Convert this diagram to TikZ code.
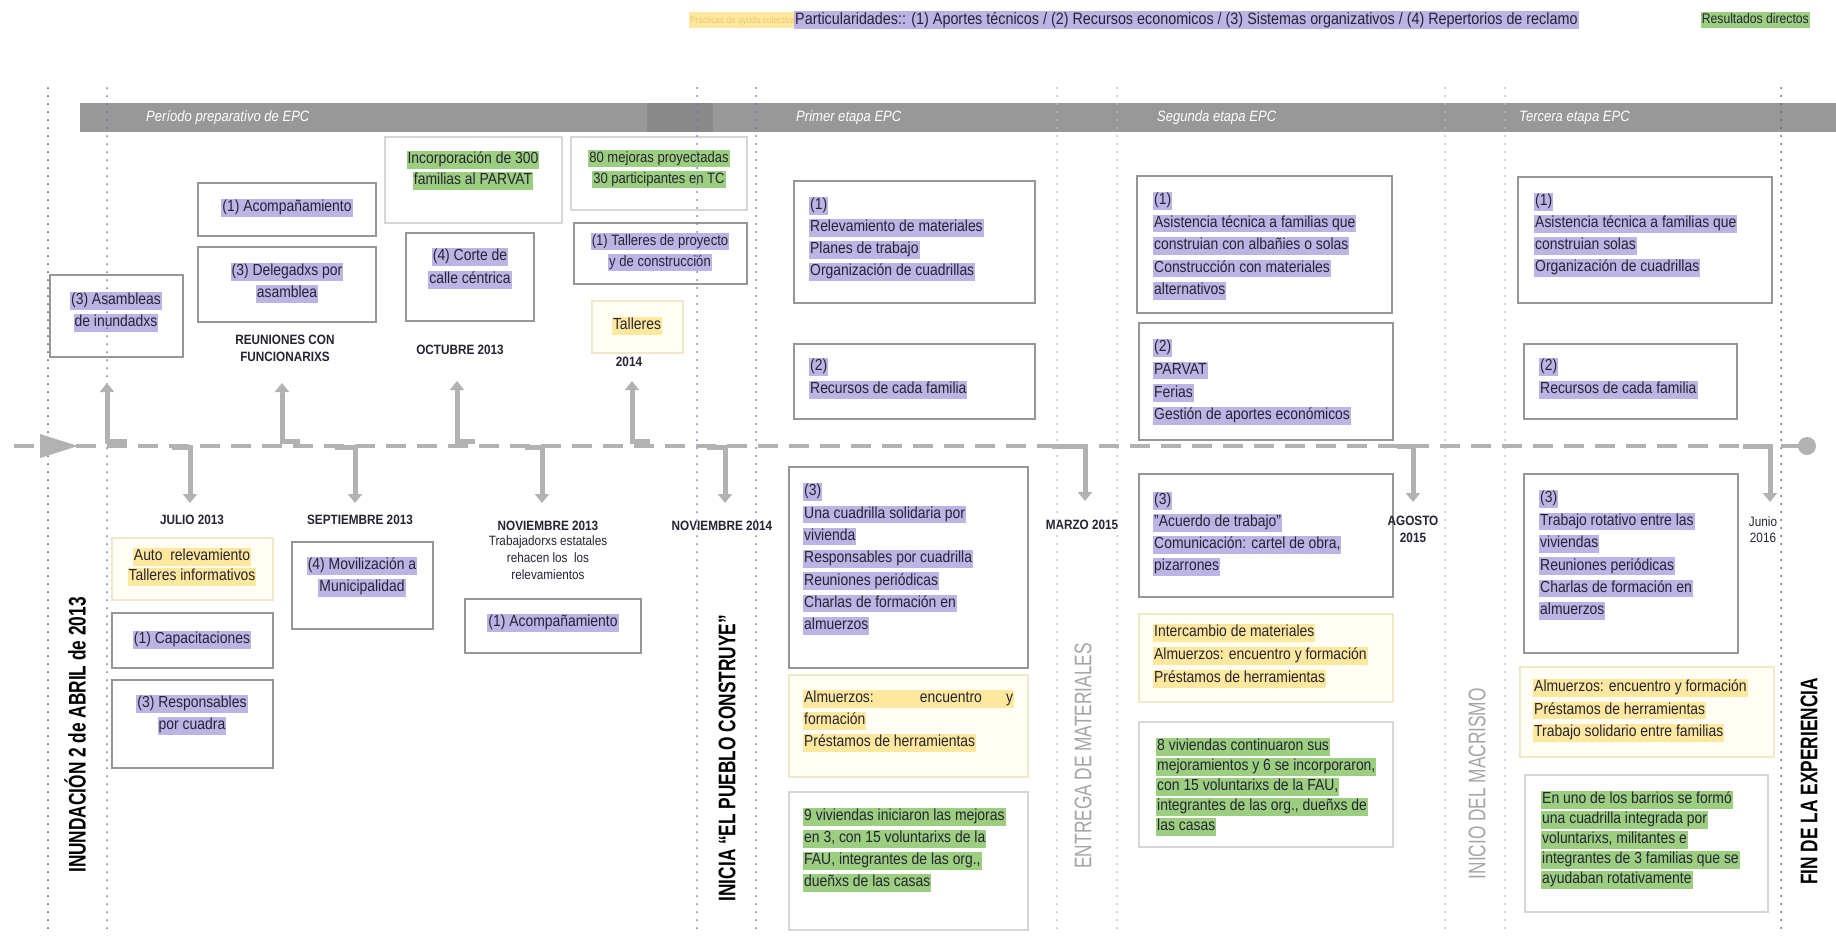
\documentclass[tikz,border=0pt]{standalone}
\usepackage{fontspec}
\setmainfont{Liberation Sans}[FakeStretch=0.87]
\newfontfamily\condfont{Liberation Sans}[FakeStretch=0.72]
\usetikzlibrary{arrows.meta,fit}
\definecolor{hlp}{RGB}{188,180,228}
\definecolor{hly}{RGB}{254,232,158}
\definecolor{hlg}{RGB}{156,206,128}
\definecolor{tline}{RGB}{178,178,178}
\definecolor{bandc}{RGB}{152,152,152}
\definecolor{boxc}{RGB}{150,150,150}
\definecolor{dotp}{RGB}{125,112,185}
\definecolor{dotg}{RGB}{185,185,185}
\definecolor{dotk}{RGB}{90,90,110}
\definecolor{ink}{RGB}{38,36,52}
\definecolor{yline}{RGB}{240,232,200}
\definecolor{yfill}{RGB}{255,253,244}
\definecolor{gline}{RGB}{212,216,208}
\definecolor{biggray}{RGB}{165,165,165}
\definecolor{legytxt}{RGB}{236,200,110}
\newcommand\hlstrut{\rule[-4pt]{0pt}{14.5pt}}
\newcommand\hlP[1]{{\setlength{\fboxsep}{1pt}\colorbox{hlp}{\hlstrut#1}}}
\newcommand\hlY[1]{{\setlength{\fboxsep}{1pt}\colorbox{hly}{\hlstrut#1}}}
\newcommand\hlG[1]{{\setlength{\fboxsep}{1pt}\colorbox{hlg}{\hlstrut#1}}}
\tikzset{
  pbox/.style={draw=boxc, line width=1.2pt, inner sep=0pt},
  ybox/.style={draw=yline, fill=yfill, line width=1.2pt, inner sep=0pt},
  gbox/.style={draw=gline, line width=1.2pt, inner sep=0pt},
  txt/.style={inner sep=0pt, text=ink, font=\fontsize{16}{22}\selectfont},
  txtl/.style={txt, align=left, anchor=north west},
  txtc/.style={txt, align=center, anchor=north},
  txto/.style={txt, anchor=center},
  datelbl/.style={inner sep=0pt, text=ink, font=\fontsize{13.5}{17}\selectfont\bfseries, align=center},
  bigv/.style={rotate=90, anchor=east, inner sep=0pt},
  bandlbl/.style={inner sep=0pt, text=white, font=\fontsize{15}{18}\selectfont\itshape, anchor=west},
  vdot/.style={line width=2pt, line cap=round, dash pattern=on 0pt off 8pt},
  conn/.style={draw=tline, line width=5pt, -{Triangle[width=14pt,length=9pt]}},
  timeline/.style={draw=tline, line width=4.5pt, dash pattern=on 20pt off 11pt},
  legend/.style={inner sep=0pt, text=ink, font=\fontsize{16.5}{18}\selectfont},
}
\begin{document}
\begin{tikzpicture}[x=1pt,y=-1pt]
\useasboundingbox (0,0) rectangle (1836,938);
\fill[white] (0,0) rectangle (1836,938);

% ---------- legend ----------
\node[legend, anchor=west, font=\fontsize{9.5}{12}\selectfont] (legY) at (689,20) {{\setlength{\fboxsep}{1pt}\colorbox{hly}{\hlstrut\textcolor{legytxt}{Prácticas de ayuda colectiva}}}};
\node[legend, anchor=west] (legP) at (794,20) {\hlP{Particularidades:: (1) Aportes técnicos / (2) Recursos economicos / (3) Sistemas organizativos / (4) Repertorios de reclamo}};
\node[legend, anchor=east, font=\fontsize{14}{18}\selectfont] (legG) at (1810,20) {\hlG{Resultados directos}};

% ---------- band ----------
\fill[bandc] (80,103) rectangle (1836,132);
\fill[bandc!90!black] (647,103) rectangle (713,132);
\node[bandlbl] (bl0) at (146,118) {Período preparativo de EPC};
\node[bandlbl] (bl1) at (796,118) {Primer etapa EPC};
\node[bandlbl] (bl2) at (1157,118) {Segunda etapa EPC};
\node[bandlbl] (bl3) at (1519,118) {Tercera etapa EPC};

% ---------- preparatory period: upper ----------
\node[pbox, fit={(50,275) (183,357)}] (bAsam) {};
\node[txtc] (tAsam) at (116,292) {\hlP{(3) Asambleas}\\\hlP{de inundadxs}};

\node[pbox, fit={(198,183) (376,236)}] (bAcomp1) {};
\node[txto] (tAcomp1) at (287,208) {\hlP{(1) Acompañamiento}};

\node[pbox, fit={(198,247) (376,322)}] (bDeleg) {};
\node[txtc] (tDeleg) at (287,263) {\hlP{(3) Delegadxs por}\\\hlP{asamblea}};

\node[gbox, fit={(385,137) (562,223)}] (bIncorp) {};
\node[txtc, font=\fontsize{16}{21}\selectfont] (tIncorp) at (473,151) {\hlG{Incorporación de 300}\\\hlG{familias al PARVAT}};

\node[pbox, fit={(406,233) (534,321)}] (bCorte) {};
\node[txtc, font=\fontsize{16}{23}\selectfont] (tCorte) at (470,248) {\hlP{(4) Corte de}\\\hlP{calle céntrica}};

\node[gbox, fit={(571,137) (747,210)}] (bMejoras) {};
\node[txtc, font=\fontsize{15}{21}\selectfont] (tMejoras) at (659,150) {\hlG{80 mejoras proyectadas}\\\hlG{30 participantes en TC}};

\node[pbox, fit={(574,223) (747,284)}] (bTallP) {};
\node[txtc, font=\fontsize{15}{21}\selectfont] (tTallP) at (660,233) {\hlP{(1) Talleres de proyecto}\\\hlP{y de construcción}};

\node[ybox, fit={(592,301) (683,353)}] (bTallY) {};
\node[txto] (tTallY) at (637,326) {\hlY{Talleres}};

\node[datelbl] (dReun) at (285,348) {REUNIONES CON\\FUNCIONARIXS};
\node[datelbl] (dOct) at (460,350) {OCTUBRE 2013};
\node[datelbl] (d2014) at (629,362) {2014};

% ---------- preparatory period: lower ----------
\node[datelbl] (dJul) at (192,520) {JULIO 2013};
\node[datelbl] (dSep) at (360,520) {SEPTIEMBRE 2013};
\node[datelbl] (dNov13) at (548,526) {NOVIEMBRE 2013};
\node[inner sep=0pt, text=ink, font=\fontsize{13.5}{17}\selectfont, align=center, anchor=north] (tTrab) at (548,536) {Trabajadorxs estatales\\rehacen los\ \ los\\relevamientos};
\node[datelbl] (dNov14) at (722,526) {NOVIEMBRE 2014};

\node[ybox, fit={(112,538) (273,600)}] (bAuto) {};
\node[txtc, font=\fontsize{16}{20}\selectfont] (tAuto) at (192,548) {\hlY{Auto\ \ relevamiento}\\\hlY{Talleres informativos}};

\node[pbox, fit={(112,613) (273,668)}] (bCapac) {};
\node[txto] (tCapac) at (192,640) {\hlP{(1) Capacitaciones}};

\node[pbox, fit={(112,680) (273,768)}] (bResp) {};
\node[txtc] (tResp) at (192,695) {\hlP{(3) Responsables}\\\hlP{por cuadra}};

\node[pbox, fit={(292,542) (433,629)}] (bMovil) {};
\node[txtc] (tMovil) at (362,557) {\hlP{(4) Movilización a}\\\hlP{Municipalidad}};

\node[pbox, fit={(465,599) (641,653)}] (bAcomp2) {};
\node[txto] (tAcomp2) at (553,623) {\hlP{(1) Acompañamiento}};

% ---------- primer etapa ----------
\node[pbox, fit={(794,181) (1035,303)}] (bE1a) {};
\node[txtl] (tE1a) at (809,197) {\hlP{(1)}\\\hlP{Relevamiento de materiales}\\\hlP{Planes de trabajo}\\\hlP{Organización de cuadrillas}};

\node[pbox, fit={(794,344) (1035,419)}] (bE1b) {};
\node[txtl, font=\fontsize{16}{23}\selectfont] (tE1b) at (809,358) {\hlP{(2)}\\\hlP{Recursos de cada familia}};

\node[pbox, fit={(789,467) (1028,668)}] (bE1c) {};
\node[txtl, font=\fontsize{16}{22.3}\selectfont] (tE1c) at (803,483) {\hlP{(3)}\\\hlP{Una cuadrilla solidaria por}\\\hlP{vivienda}\\\hlP{Responsables por cuadrilla}\\\hlP{Reuniones periódicas}\\\hlP{Charlas de formación en}\\\hlP{almuerzos}};

\node[ybox, fit={(789,675) (1028,777)}] (bE1y) {};
\node[txtl] (tE1y) at (803,690) {\hlY{\makebox[209pt][s]{Almuerzos: encuentro y}}\\\hlY{formación}\\\hlY{Préstamos de herramientas}};

\node[gbox, fit={(789,792) (1028,930)}] (bE1g) {};
\node[txtl] (tE1g) at (803,808) {\hlG{9 viviendas iniciaron las mejoras}\\\hlG{en 3, con 15 voluntarixs de la}\\\hlG{FAU, integrantes de las org.,}\\\hlG{dueñxs de las casas}};

\node[datelbl] (dMar) at (1082,525) {MARZO 2015};

% ---------- segunda etapa ----------
\node[pbox, fit={(1137,176) (1392,313)}] (bE2a) {};
\node[txtl, font=\fontsize{16}{22.5}\selectfont] (tE2a) at (1153,192) {\hlP{(1)}\\\hlP{Asistencia técnica a familias que}\\\hlP{construian con albañies o solas}\\\hlP{Construcción con materiales}\\\hlP{alternativos}};

\node[pbox, fit={(1139,323) (1393,440)}] (bE2b) {};
\node[txtl, font=\fontsize{16}{22.6}\selectfont] (tE2b) at (1153,339) {\hlP{(2)}\\\hlP{PARVAT}\\\hlP{Ferias}\\\hlP{Gestión de aportes económicos}};

\node[pbox, fit={(1139,474) (1393,597)}] (bE2c) {};
\node[txtl] (tE2c) at (1153,492) {\hlP{(3)}\\\hlP{"Acuerdo de trabajo"}\\\hlP{Comunicación: cartel de obra,}\\\hlP{pizarrones}};

\node[ybox, fit={(1139,614) (1393,702)}] (bE2y) {};
\node[txtl, font=\fontsize{16}{23}\selectfont] (tE2y) at (1153,624) {\hlY{Intercambio de materiales}\\\hlY{Almuerzos: encuentro y formación}\\\hlY{Préstamos de herramientas}};

\node[gbox, fit={(1139,722) (1393,847)}] (bE2g) {};
\node[txtl, font=\fontsize{16}{20}\selectfont] (tE2g) at (1156,738) {\hlG{8 viviendas continuaron sus}\\\hlG{mejoramientos y 6 se incorporaron,}\\\hlG{con 15 voluntarixs de la FAU,}\\\hlG{integrantes de las org., dueñxs de}\\\hlG{las casas}};

\node[datelbl] (dAgo) at (1413,529) {AGOSTO\\2015};

% ---------- tercera etapa ----------
\node[pbox, fit={(1518,177) (1772,303)}] (bE3a) {};
\node[txtl] (tE3a) at (1534,193) {\hlP{(1)}\\\hlP{Asistencia técnica a familias que}\\\hlP{construian solas}\\\hlP{Organización de cuadrillas}};

\node[pbox, fit={(1524,344) (1737,419)}] (bE3b) {};
\node[txtl, font=\fontsize{16}{23}\selectfont] (tE3b) at (1539,358) {\hlP{(2)}\\\hlP{Recursos de cada familia}};

\node[pbox, fit={(1524,474) (1738,653)}] (bE3c) {};
\node[txtl, font=\fontsize{16}{22.4}\selectfont] (tE3c) at (1539,490) {\hlP{(3)}\\\hlP{Trabajo rotativo entre las}\\\hlP{viviendas}\\\hlP{Reuniones periódicas}\\\hlP{Charlas de formación en}\\\hlP{almuerzos}};

\node[ybox, fit={(1520,667) (1774,757)}] (bE3y) {};
\node[txtl, font=\fontsize{16}{22.5}\selectfont] (tE3y) at (1533,679) {\hlY{Almuerzos: encuentro y formación}\\\hlY{Préstamos de herramientas}\\\hlY{Trabajo solidario entre familias}};

\node[gbox, fit={(1525,775) (1768,912)}] (bE3g) {};
\node[txtl, font=\fontsize{16}{20}\selectfont] (tE3g) at (1541,791) {\hlG{En uno de los barrios se formó}\\\hlG{una cuadrilla integrada por}\\\hlG{voluntarixs, militantes e}\\\hlG{integrantes de 3 familias que se}\\\hlG{ayudaban rotativamente}};

\node[datelbl, font=\fontsize{13.5}{16}\selectfont] (dJun) at (1763,530) {Junio\\2016};

% ---------- vertical dotted lines ----------
\foreach \x/\c in {48/dotk,107/dotp,697/dotp,756/dotp,1057/dotg,1117/dotg,1445/dotg,1505/dotg,1781/dotk}
  \draw[vdot, \c] (\x,88) -- (\x,932);

% ---------- timeline ----------
\coordinate (tlS) at (14,446);
\coordinate (tlE) at (1800,446);
\draw[timeline] (tlS) -- (tlE);
\fill[tline] (40,434) -- (78,446) -- (40,458) -- cycle;
\node[circle, fill=tline, minimum size=18pt, inner sep=0pt] (tlEnd) at (1807,446) {};

% up connectors
\coordinate (u1s) at (127,441); \coordinate (u1e) at (107,383);
\coordinate (u2s) at (300,441); \coordinate (u2e) at (282,383);
\coordinate (u3s) at (475,441); \coordinate (u3e) at (457,381);
\coordinate (u4s) at (650,441); \coordinate (u4e) at (632,381);
\foreach \i in {1,2,3,4} \draw[conn] (u\i s) -| (u\i e);

% down connectors
\coordinate (d1s) at (172,447); \coordinate (d1e) at (190,503);
\coordinate (d2s) at (335,447); \coordinate (d2e) at (355,503);
\coordinate (d3s) at (525,447); \coordinate (d3e) at (542,503);
\coordinate (d4s) at (707,447); \coordinate (d4e) at (725,503);
\coordinate (d5s) at (1052,446); \coordinate (d5e) at (1085,501);
\coordinate (d6s) at (1397,446); \coordinate (d6e) at (1413,502);
\coordinate (d7s) at (1743,446); \coordinate (d7e) at (1770,502);
\foreach \i in {1,...,7} \draw[conn] (d\i s) -| (d\i e);

% ---------- big vertical labels ----------
\node[bigv, font=\condfont\bfseries\fontsize{24}{28}\selectfont, text=black] (vInund) at (75,597) {INUNDACIÓN 2 de ABRIL de 2013};
\node[bigv, font=\condfont\bfseries\fontsize{24}{28}\selectfont, text=black] (vInicia) at (727,615) {INICIA “EL PUEBLO CONSTRUYE”};
\node[bigv, font=\condfont\fontsize{24}{28}\selectfont, text=biggray] (vEntrega) at (1083,643) {ENTREGA DE MATERIALES};
\node[bigv, font=\condfont\fontsize{24}{28}\selectfont, text=biggray] (vInicio) at (1477,688) {INICIO DEL MACRISMO};
\node[bigv, font=\condfont\bfseries\fontsize{24}{28}\selectfont, text=black] (vFin) at (1809,678) {FIN DE LA EXPERIENCIA};
\end{tikzpicture}
\end{document}
